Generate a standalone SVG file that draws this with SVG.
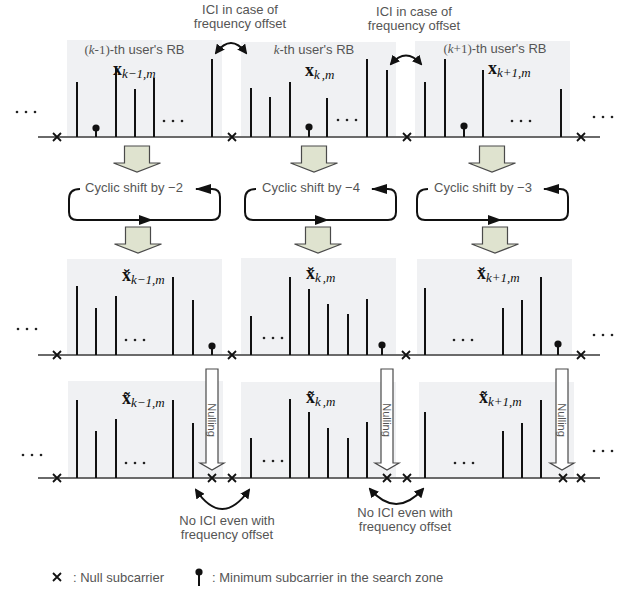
<svg xmlns="http://www.w3.org/2000/svg" width="628" height="590" viewBox="0 0 628 590">
<style>
.bg{fill:#ffffff}
.box{fill:#f0f1f3}
.base{stroke:#6a6a6a;stroke-width:2}
.stem{stroke:#111;stroke-width:2}
.nul{stroke:#111;stroke-width:1.8;fill:none}
.ball{fill:#111}
.dot{fill:#222}
.lbl{font-family:"Liberation Sans",Arial,sans-serif;font-size:13px;fill:#555}
.ser{font-family:"Liberation Serif","Times New Roman",serif}
.it{font-style:italic}
.mx{font-family:"Liberation Serif","Times New Roman",serif;font-weight:bold;font-size:18px;fill:#111}
.sb{font-weight:normal;font-style:italic;font-size:13px}
.blk{fill:#dfe3cf;stroke:#4a4a4a;stroke-width:1.2}
.nar{fill:#fff;stroke:#4a4a4a;stroke-width:1.2}
.nt{font-family:"Liberation Sans",Arial,sans-serif;font-size:11px;fill:#555}
.loop{fill:none;stroke:#111;stroke-width:2}
.arc{fill:none;stroke:#111;stroke-width:2}
</style>
<defs>
<marker id="ah" viewBox="0 0 10 10" refX="8" refY="5" markerWidth="5" markerHeight="5" orient="auto-start-reverse" markerUnits="strokeWidth">
<path d="M0 0 L10 5 L0 10 z" fill="#111"/>
</marker>
<marker id="lh" viewBox="0 0 16 10" refX="15" refY="5" markerWidth="8" markerHeight="5" orient="auto" markerUnits="strokeWidth">
<path d="M0 0 L16 5 L0 10 z" fill="#111"/>
</marker>
<g id="xm"><path d="M-4 -4 L4 4 M4 -4 L-4 4" class="nul"/></g>
</defs>
<rect class="bg" x="0" y="0" width="628" height="590"/>

<!-- Row 1 -->
<g id="row1">
<rect class="box" x="67" y="40" width="155" height="97"/>
<rect class="box" x="241" y="42" width="155" height="95"/>
<rect class="box" x="415" y="41" width="155" height="96"/>
<line class="base" x1="38" y1="137" x2="600" y2="137"/>
</g>
<g id="rb-k-1">
<text class="lbl" x="134.5" y="54" text-anchor="middle"><tspan class="ser">(<tspan class="it">k</tspan>-1)</tspan>-th user's RB</text>
<text class="mx" x="113" y="75">x<tspan class="sb" dy="3">k−1,m</tspan></text>
<path class="stem" d="M77 137V82M96 137V128M116 137V68M135 137V89M154 137V78M212 137V59"/>
<circle class="ball" cx="96" cy="128" r="3.6"/>
<circle class="dot" cx="164" cy="121" r="1.3"/><circle class="dot" cx="173" cy="121" r="1.3"/><circle class="dot" cx="182" cy="121" r="1.3"/>
</g>
<g id="rb-k">
<text class="lbl" x="314" y="54" text-anchor="middle"><tspan class="ser it">k</tspan>-th user's RB</text>
<text class="mx" x="305" y="76">x<tspan class="sb" dy="3">k</tspan><tspan class="sb" dx="2">,m</tspan></text>
<path class="stem" d="M251 137V88M270 137V97M290 137V82M309 137V127M327 137V98M367 137V59M387 137V70"/>
<circle class="ball" cx="309" cy="127" r="3.6"/>
<circle class="dot" cx="338" cy="120" r="1.3"/><circle class="dot" cx="347" cy="120" r="1.3"/><circle class="dot" cx="356" cy="120" r="1.3"/>
</g>
<g id="rb-k1">
<text class="lbl" x="495" y="53" text-anchor="middle"><tspan class="ser">(<tspan class="it">k</tspan>+1)</tspan>-th user's RB</text>
<text class="mx" x="488" y="74">x<tspan class="sb" dy="3">k+1,m</tspan></text>
<path class="stem" d="M425 137V82M445 137V59M464 137V126M483 137V70M561 137V89"/>
<circle class="ball" cx="464" cy="126" r="3.6"/>
<circle class="dot" cx="512" cy="121" r="1.3"/><circle class="dot" cx="521" cy="121" r="1.3"/><circle class="dot" cx="530" cy="121" r="1.3"/>
</g>
<g id="row1-marks">
<use href="#xm" x="57" y="137"/><use href="#xm" x="232" y="137"/><use href="#xm" x="407" y="137"/><use href="#xm" x="581" y="137"/>
<circle class="dot" cx="17" cy="112" r="1.3"/><circle class="dot" cx="26" cy="112" r="1.3"/><circle class="dot" cx="35" cy="112" r="1.3"/>
<circle class="dot" cx="594" cy="117" r="1.3"/><circle class="dot" cx="603" cy="117" r="1.3"/><circle class="dot" cx="612" cy="117" r="1.3"/>
</g>

<!-- Row 2 -->
<g id="row2">
<rect class="box" x="67" y="259" width="155" height="96"/>
<rect class="box" x="241" y="258" width="155" height="97"/>
<rect class="box" x="417" y="259" width="155" height="96"/>
<line class="base" x1="38" y1="355" x2="600" y2="355"/>
</g>
<g id="shifted-k-1">
<text class="mx" x="122" y="281">x̆<tspan class="sb" dy="3">k−1,m</tspan></text>
<path class="stem" d="M77 355V286M96 355V308M116 355V296M173 355V277M193 355V300M212 355V346"/>
<circle class="ball" cx="212" cy="346" r="3.6"/>
<circle class="dot" cx="126" cy="340" r="1.3"/><circle class="dot" cx="135" cy="340" r="1.3"/><circle class="dot" cx="144" cy="340" r="1.3"/>
</g>
<g id="shifted-k">
<text class="mx" x="306" y="279">x̆<tspan class="sb" dy="3">k</tspan><tspan class="sb" dx="2">,m</tspan></text>
<path class="stem" d="M251 355V316M290 355V277M309 355V289M328 355V304M348 355V314M367 355V299M382 355V345"/>
<circle class="ball" cx="382" cy="345" r="3.6"/>
<circle class="dot" cx="264" cy="338" r="1.3"/><circle class="dot" cx="273" cy="338" r="1.3"/><circle class="dot" cx="282" cy="338" r="1.3"/>
</g>
<g id="shifted-k1">
<text class="mx" x="477" y="279">x̆<tspan class="sb" dy="3">k+1,m</tspan></text>
<path class="stem" d="M425 355V288M503 355V308M522 355V300M541 355V277M558 355V344"/>
<circle class="ball" cx="558" cy="344" r="3.6"/>
<circle class="dot" cx="454" cy="340" r="1.3"/><circle class="dot" cx="463" cy="340" r="1.3"/><circle class="dot" cx="472" cy="340" r="1.3"/>
</g>
<g id="row2-marks">
<use href="#xm" x="57" y="355"/><use href="#xm" x="232" y="355"/><use href="#xm" x="406" y="355"/><use href="#xm" x="581" y="355"/>
<circle class="dot" cx="18" cy="329" r="1.3"/><circle class="dot" cx="27" cy="329" r="1.3"/><circle class="dot" cx="36" cy="329" r="1.3"/>
<circle class="dot" cx="594" cy="335" r="1.3"/><circle class="dot" cx="603" cy="335" r="1.3"/><circle class="dot" cx="612" cy="335" r="1.3"/>
</g>

<!-- Row 3 -->
<g id="row3">
<rect class="box" x="68" y="381" width="155" height="97"/>
<rect class="box" x="241" y="382" width="155" height="96"/>
<rect class="box" x="419" y="382" width="155" height="96"/>
<line class="base" x1="38" y1="478" x2="600" y2="478"/>
</g>
<g id="nulled-k-1">
<text class="mx" x="122" y="404">x̃<tspan class="sb" dy="3">k−1,m</tspan></text>
<path class="stem" d="M77 478V400M96 478V431M116 478V419M173 478V400M193 478V423"/>
<circle class="dot" cx="126" cy="463" r="1.3"/><circle class="dot" cx="135" cy="463" r="1.3"/><circle class="dot" cx="144" cy="463" r="1.3"/>
</g>
<g id="nulled-k">
<text class="mx" x="306" y="403">x̃<tspan class="sb" dy="3">k</tspan><tspan class="sb" dx="2">,m</tspan></text>
<path class="stem" d="M251 478V438M290 478V399M309 478V412M328 478V428M348 478V438M367 478V422"/>
<circle class="dot" cx="264" cy="461" r="1.3"/><circle class="dot" cx="273" cy="461" r="1.3"/><circle class="dot" cx="282" cy="461" r="1.3"/>
</g>
<g id="nulled-k1">
<text class="mx" x="479" y="403">x̃<tspan class="sb" dy="3">k+1,m</tspan></text>
<path class="stem" d="M425 478V412M503 478V431M522 478V423M541 478V400"/>
<circle class="dot" cx="455" cy="463" r="1.3"/><circle class="dot" cx="464" cy="463" r="1.3"/><circle class="dot" cx="473" cy="463" r="1.3"/>
</g>
<g id="row3-marks">
<use href="#xm" x="57" y="478"/><use href="#xm" x="212" y="478"/><use href="#xm" x="232" y="478"/>
<use href="#xm" x="387" y="478"/><use href="#xm" x="407" y="478"/>
<use href="#xm" x="563" y="478"/><use href="#xm" x="581" y="478"/>
<circle class="dot" cx="23" cy="455" r="1.3"/><circle class="dot" cx="32" cy="455" r="1.3"/><circle class="dot" cx="41" cy="455" r="1.3"/>
<circle class="dot" cx="594" cy="451" r="1.3"/><circle class="dot" cx="603" cy="451" r="1.3"/><circle class="dot" cx="612" cy="451" r="1.3"/>
</g>

<!-- Cyclic shift loops -->
<g id="shift-2">
<path class="loop" marker-end="url(#lh)" d="M80 189 Q69 189 69 199 L69 212 Q69 220 77 220 L212 220 Q220 220 220 212 L220 197 Q220 189 212 189 L196 189"/>
<path d="M153 220 L139 215 L139 225 z" fill="#111"/>
<text class="lbl" x="85" y="192">Cyclic shift by −2</text>
</g>
<g id="shift-4">
<path class="loop" marker-end="url(#lh)" d="M256 189 Q245 189 245 199 L245 212 Q245 220 253 220 L388 220 Q396 220 396 212 L396 197 Q396 189 388 189 L372 189"/>
<path d="M329 220 L315 215 L315 225 z" fill="#111"/>
<text class="lbl" x="262" y="192">Cyclic shift by −4</text>
</g>
<g id="shift-3">
<path class="loop" marker-end="url(#lh)" d="M428 189 Q417 189 417 199 L417 212 Q417 220 425 220 L560 220 Q568 220 568 212 L568 197 Q568 189 560 189 L544 189"/>
<path d="M502 220 L488 215 L488 225 z" fill="#111"/>
<text class="lbl" x="434" y="192">Cyclic shift by −3</text>
</g>

<!-- Connectors -->
<g id="connectors">
<polygon class="blk" points="124.5,146 149.5,146 149.5,163 160.5,163 137,172 113.5,163 124.5,163"/>
<polygon class="blk" points="301.5,146 326.5,146 326.5,163 337.5,163 314,172 290.5,163 301.5,163"/>
<polygon class="blk" points="479.5,146 504.5,146 504.5,163 515.5,163 492,172 468.5,163 479.5,163"/>
<polygon class="blk" points="125.5,227 150.5,227 150.5,244 161.5,244 138,253 114.5,244 125.5,244"/>
<polygon class="blk" points="305.5,227 330.5,227 330.5,244 341.5,244 318,253 294.5,244 305.5,244"/>
<polygon class="blk" points="482.5,227 507.5,227 507.5,244 518.5,244 495,253 471.5,244 482.5,244"/>
<path class="arc" marker-start="url(#ah)" marker-end="url(#ah)" d="M216 53 Q231 33 246 53"/>
<path class="arc" marker-start="url(#ah)" marker-end="url(#ah)" d="M391 64 Q406 47 421 64"/>
<path class="arc" marker-start="url(#ah)" marker-end="url(#ah)" d="M196 490 Q222 528 249 490"/>
<path class="arc" marker-start="url(#ah)" marker-end="url(#ah)" d="M370 489 Q396 519 423 489"/>
</g>
<g id="nulling">
<polygon class="nar" points="206,369 218,369 218,463 224,463 212,470 200,463 206,463"/>
<polygon class="nar" points="381,369 393,369 393,463 399,463 387,470 375,463 381,463"/>
<polygon class="nar" points="556,369 568,369 568,463 574,463 562,470 550,463 556,463"/>
<text class="nt" transform="translate(212,420) rotate(90)" text-anchor="middle" dy="4">Nulling</text>
<text class="nt" transform="translate(387,420) rotate(90)" text-anchor="middle" dy="4">Nulling</text>
<text class="nt" transform="translate(562,420) rotate(90)" text-anchor="middle" dy="4">Nulling</text>
</g>
<g id="labels">
<text class="lbl" x="240" y="14" text-anchor="middle">ICI in case of</text>
<text class="lbl" x="240" y="28" text-anchor="middle">frequency offset</text>
<text class="lbl" x="414" y="16" text-anchor="middle">ICI in case of</text>
<text class="lbl" x="414" y="30" text-anchor="middle">frequency offset</text>
<text class="lbl" x="227" y="525" text-anchor="middle">No ICI even with</text>
<text class="lbl" x="227" y="539" text-anchor="middle">frequency offset</text>
<text class="lbl" x="405" y="517" text-anchor="middle">No ICI even with</text>
<text class="lbl" x="405" y="531" text-anchor="middle">frequency offset</text>
</g>
<g id="legend">
<use href="#xm" x="57" y="577"/>
<text class="lbl" x="73" y="582">: Null subcarrier</text>
<line class="stem" x1="199" y1="572" x2="199" y2="586"/>
<circle class="ball" cx="199" cy="572" r="3.6"/>
<text class="lbl" x="212" y="582">: Minimum subcarrier in the search zone</text>
</g>
</svg>
